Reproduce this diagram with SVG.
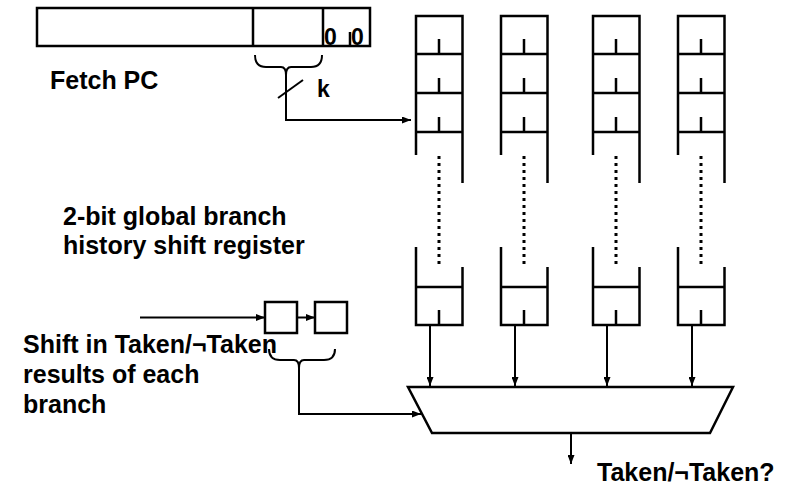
<svg xmlns="http://www.w3.org/2000/svg" width="794" height="485" viewBox="0 0 794 485">
<style>
.s{fill:none;stroke:#000;stroke-width:2.5;stroke-linecap:butt}
.c{fill:none;stroke:#000;stroke-width:2}
.dot{fill:none;stroke:#000;stroke-width:3;stroke-dasharray:3 4}
.t{font-family:"Liberation Sans",Arial,sans-serif;font-weight:bold;font-size:25px;fill:#000}
</style>
<defs>
<marker id="ah" markerWidth="9" markerHeight="7" refX="9" refY="3.5" orient="auto" markerUnits="userSpaceOnUse">
<path d="M0,0 L9,3.5 L0,7 Z" fill="#000"/>
</marker>
<g id="colshape">
<path class="s" d="M0,16 H46.5 V132 H0 Z M0,54 H46.5 M0,93 H46.5 M23,39 V54 M23,78 V93 M23,117 V132 M0,132 V155 M46.5,132 V183 M0,247 V287 M46.5,267 V287 M0,287 H46.5 V325 H0 Z M23,310 V325"/>
<path class="dot" d="M23,156 V268"/>
</g>
</defs>
<rect width="794" height="485" fill="#fff"/>

<g id="fetch-pc">
<path class="s" d="M37,8 H370 V46 H37 Z M253,8 V46 M323,8 V46 M350,32 V46"/>
<text class="t" x="324" y="45" style="font-size:23px">0</text>
<text class="t" x="351" y="45" style="font-size:23px">0</text>
<text class="t" x="50" y="89">Fetch PC</text>
</g>

<g id="column-1"><use href="#colshape" x="416"/></g>
<g id="column-2"><use href="#colshape" x="501"/></g>
<g id="column-3"><use href="#colshape" x="593"/></g>
<g id="column-4"><use href="#colshape" x="678"/></g>

<g id="ghr">
<rect class="s" x="265" y="302" width="32" height="31"/>
<rect class="s" x="315" y="302" width="32" height="31"/>
</g>

<g id="mux">
<polygon class="s" points="408,387 733,387 710,433 432,433"/>
</g>

<g id="labels">
<text class="t" x="63" y="225">2-bit global branch</text>
<text class="t" x="63" y="254">history shift register</text>
<text class="t" x="23" y="353">Shift in Taken/¬Taken</text>
<text class="t" x="23" y="383">results of each</text>
<text class="t" x="23" y="413">branch</text>
<text class="t" x="597" y="481">Taken/¬Taken?</text>
<text class="t" x="317" y="97" style="font-size:23px">k</text>
</g>

<g id="connectors">
<path class="c" d="M255,55 Q255,67 266,67 H281 Q286,67 286,75 Q286,67 291,67 H311 Q322,67 322,55"/>
<path class="c" d="M286,72 V120 H411" marker-end="url(#ah)"/>
<path class="c" d="M278,98 L303,80"/>
<path class="c" d="M140,317.5 H265" marker-end="url(#ah)"/>
<path class="c" d="M297,317.5 H315" marker-end="url(#ah)"/>
<path class="c" d="M269,349 Q269,360 280,360 H294 Q299,360 299,368 Q299,360 304,360 H324 Q335,360 335,349"/>
<path class="c" d="M299,365 V414 H421" marker-end="url(#ah)"/>
<path class="c" d="M430,325 V386" marker-end="url(#ah)"/>
<path class="c" d="M515,325 V386" marker-end="url(#ah)"/>
<path class="c" d="M607,325 V386" marker-end="url(#ah)"/>
<path class="c" d="M692,325 V386" marker-end="url(#ah)"/>
<path class="c" d="M571,433 V464" marker-end="url(#ah)"/>
</g>
</svg>
